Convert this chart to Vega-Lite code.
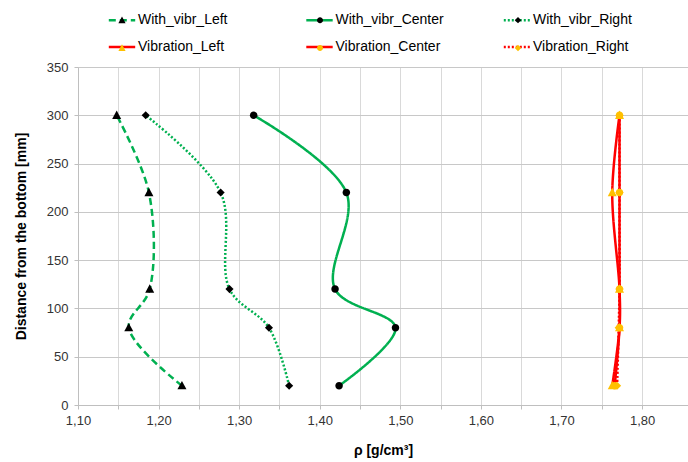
{
  "$schema": "https://vega.github.io/schema/vega-lite/v6.json",
  "width": 610,
  "height": 338,
  "autosize": {"type": "none"},
  "padding": {"left": 78, "top": 67, "right": 0, "bottom": 57},
  "background": "white",
  "config": {"view": {"stroke": null}, "font": "Liberation Sans"},
  "data": {
    "values": [
      {"series": "With_vibr_Left", "distance": 300, "rho": 1.148},
      {"series": "With_vibr_Left", "distance": 220, "rho": 1.188},
      {"series": "With_vibr_Left", "distance": 120, "rho": 1.189},
      {"series": "With_vibr_Left", "distance": 80, "rho": 1.163},
      {"series": "With_vibr_Left", "distance": 20, "rho": 1.229},
      {"series": "With_vibr_Center", "distance": 300, "rho": 1.318},
      {"series": "With_vibr_Center", "distance": 220, "rho": 1.433},
      {"series": "With_vibr_Center", "distance": 120, "rho": 1.419},
      {"series": "With_vibr_Center", "distance": 80, "rho": 1.494},
      {"series": "With_vibr_Center", "distance": 20, "rho": 1.424},
      {"series": "With_vibr_Right", "distance": 300, "rho": 1.184},
      {"series": "With_vibr_Right", "distance": 220, "rho": 1.277},
      {"series": "With_vibr_Right", "distance": 120, "rho": 1.288},
      {"series": "With_vibr_Right", "distance": 80, "rho": 1.337},
      {"series": "With_vibr_Right", "distance": 20, "rho": 1.362},
      {"series": "Vibration_Left", "distance": 300, "rho": 1.772},
      {"series": "Vibration_Left", "distance": 220, "rho": 1.763},
      {"series": "Vibration_Left", "distance": 120, "rho": 1.772},
      {"series": "Vibration_Left", "distance": 80, "rho": 1.772},
      {"series": "Vibration_Left", "distance": 20, "rho": 1.763},
      {"series": "Vibration_Center", "distance": 300, "rho": 1.772},
      {"series": "Vibration_Center", "distance": 220, "rho": 1.772},
      {"series": "Vibration_Center", "distance": 120, "rho": 1.772},
      {"series": "Vibration_Center", "distance": 80, "rho": 1.772},
      {"series": "Vibration_Center", "distance": 20, "rho": 1.766},
      {"series": "Vibration_Right", "distance": 300, "rho": 1.772},
      {"series": "Vibration_Right", "distance": 220, "rho": 1.772},
      {"series": "Vibration_Right", "distance": 120, "rho": 1.772},
      {"series": "Vibration_Right", "distance": 80, "rho": 1.771},
      {"series": "Vibration_Right", "distance": 20, "rho": 1.769}
    ]
  },
  "encoding": {
    "x": {
      "field": "rho",
      "type": "quantitative",
      "scale": {"domain": [1.1, 1.857], "nice": false, "zero": false},
      "axis": {
        "values": [1.1, 1.15, 1.2, 1.25, 1.3, 1.35, 1.4, 1.45, 1.5, 1.55, 1.6, 1.65, 1.7, 1.75, 1.8],
        "labelExpr": "round(datum.value*100) % 10 == 0 ? replace(format(datum.value, '.2f'), '.', ',') : ''",
        "labelOverlap": false,
        "labelFlush": false,
        "grid": true,
        "gridColor": "#d9d9d9",
        "domainColor": "#bfbfbf",
        "tickColor": "#bfbfbf",
        "tickSize": 4,
        "labelFontSize": 13,
        "labelColor": "#333333",
        "labelPadding": 5,
        "title": "ρ  [g/cm³]",
        "titleFontSize": 14,
        "titleFontWeight": "bold",
        "titleColor": "#000000",
        "titlePadding": 16
      }
    },
    "y": {
      "field": "distance",
      "type": "quantitative",
      "scale": {"domain": [0, 350], "nice": false},
      "axis": {
        "values": [0, 50, 100, 150, 200, 250, 300, 350],
        "grid": true,
        "gridColor": "#c8c8c8",
        "domainColor": "#bfbfbf",
        "tickColor": "#bfbfbf",
        "tickSize": 4,
        "labelFontSize": 13,
        "labelColor": "#333333",
        "labelPadding": 6,
        "title": "Distance from the bottom  [mm]",
        "titleFontSize": 14,
        "titleFontWeight": "bold",
        "titleColor": "#000000",
        "titlePadding": 18
      }
    },
    "order": {"field": "distance", "type": "quantitative"}
  },
  "layer": [
    {
      "mark": {"type": "line", "interpolate": "catmull-rom", "strokeWidth": 2.5},
      "encoding": {
        "color": {
          "field": "series",
          "type": "nominal",
          "scale": {
            "domain": ["With_vibr_Left", "With_vibr_Center", "With_vibr_Right", "Vibration_Left", "Vibration_Center", "Vibration_Right"],
            "range": ["#00B050", "#00B050", "#00B050", "#FF0000", "#FF0000", "#FF0000"]
          },
          "legend": {
            "orient": "none",
            "direction": "horizontal",
            "legendX": 30.5,
            "legendY": -60.5,
            "columns": 3,
            "title": null,
            "symbolType": "M-1.1,0H1.1",
            "symbolSize": 576,
            "symbolStrokeWidth": 2.5,
            "labelFontSize": 14,
            "labelColor": "#000000",
            "labelOffset": 2.5,
            "gridAlign": "all",
            "columnPadding": 54.5,
            "rowPadding": 6
          }
        },
        "strokeDash": {
          "field": "series",
          "type": "nominal",
          "scale": {
            "domain": ["With_vibr_Left", "With_vibr_Center", "With_vibr_Right", "Vibration_Left", "Vibration_Center", "Vibration_Right"],
            "range": [[7, 4], [1, 0], [2, 2], [1, 0], [1, 0], [2, 2]]
          }
        }
      }
    },
    {
      "mark": {"type": "point", "filled": true, "size": 900, "opacity": 1},
      "encoding": {
        "color": {
          "field": "series",
          "type": "nominal",
          "scale": {
            "domain": ["With_vibr_Left", "With_vibr_Center", "With_vibr_Right", "Vibration_Left", "Vibration_Center", "Vibration_Right"],
            "range": ["#000000", "#000000", "#000000", "#FFC000", "#FFC000", "#FFC000"]
          },
          "legend": {
            "orient": "none",
            "direction": "horizontal",
            "legendX": 30.5,
            "legendY": -60.5,
            "columns": 3,
            "title": null,
            "symbolSize": 576,
            "symbolStrokeWidth": 2.5,
            "symbolStrokeColor": "transparent",
            "labelFontSize": 14,
            "labelExpr": "''",
            "labelOffset": 2.5,
            "gridAlign": "all",
            "columnPadding": 168,
            "rowPadding": 6
          }
        },
        "shape": {
          "field": "series",
          "type": "nominal",
          "scale": {
            "domain": ["With_vibr_Left", "With_vibr_Center", "With_vibr_Right", "Vibration_Left", "Vibration_Center", "Vibration_Right"],
            "range": [
              "M0,-0.32L0.3,0.24L-0.3,0.24Z",
              "M-0.25,0A0.25,0.25 0 1,0 0.25,0A0.25,0.25 0 1,0 -0.25,0Z",
              "M0,-0.27L0.27,0L0,0.27L-0.27,0Z",
              "M0,-0.32L0.3,0.24L-0.3,0.24Z",
              "M-0.25,0A0.25,0.25 0 1,0 0.25,0A0.25,0.25 0 1,0 -0.25,0Z",
              "M0,-0.27L0.27,0L0,0.27L-0.27,0Z"
            ]
          }
        }
      }
    }
  ],
  "resolve": {"scale": {"color": "independent", "strokeDash": "independent", "shape": "independent"}}
}
